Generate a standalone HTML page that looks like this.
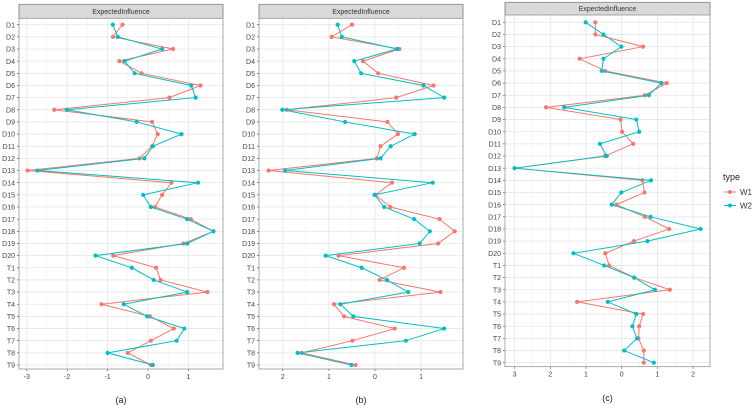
<!DOCTYPE html>
<html><head><meta charset="utf-8"><style>
body{margin:0;background:#fff}
svg{display:block;font-family:"Liberation Sans",sans-serif}
</style></head><body>
<svg id="chart" width="753" height="406" viewBox="0 0 753 406" xmlns="http://www.w3.org/2000/svg">
</svg>
<script>
const aW1=[-0.63,-0.87,0.62,-0.71,-0.16,1.30,0.53,-2.32,0.10,0.24,0.10,-0.21,-2.98,0.58,0.35,0.17,1.06,1.62,0.88,-0.86,0.20,0.31,1.47,-1.15,0.05,0.64,0.07,-0.50,0.07];
const aW2=[-0.87,-0.75,0.35,-0.58,-0.33,1.07,1.18,-2.01,-0.28,0.83,0.12,-0.09,-2.74,1.24,-0.12,0.07,0.97,1.62,0.97,-1.30,-0.40,0.14,0.97,-0.60,-0.02,0.90,0.71,-1.00,0.12];
const bW1=[-0.50,-0.94,0.53,-0.26,0.07,1.27,0.46,-1.92,0.27,0.50,0.12,0.04,-2.31,0.37,0.01,0.33,1.40,1.73,1.37,-0.79,0.63,0.10,1.42,-0.89,-0.67,0.43,-0.49,-1.59,-0.42];
const bW2=[-0.81,-0.72,0.48,-0.45,-0.30,1.05,1.50,-2.01,-0.65,0.86,0.34,0.12,-1.95,1.25,-0.01,0.20,0.85,1.19,0.97,-1.07,-0.29,0.26,0.72,-0.75,-0.47,1.50,0.67,-1.68,-0.51];
const cW1=[-0.74,-0.74,0.60,-1.18,-0.46,1.26,0.65,-2.12,-0.03,0.01,0.32,-0.47,-3.00,0.58,0.64,-0.15,0.65,1.33,0.34,-0.46,-0.35,0.35,1.35,-1.25,0.60,0.49,0.47,0.62,0.62];
const cW2=[-1.01,-0.51,-0.01,-0.51,-0.56,1.11,0.76,-1.61,0.41,0.49,-0.61,-0.42,-3.00,0.82,-0.01,-0.28,0.81,2.21,0.72,-1.35,-0.49,0.35,0.93,-0.39,0.41,0.30,0.43,0.07,0.90];
const aTicks=[-3,-2,-1,0,1];const aTickLabels=["-3","-2","-1","0","1"];
const bTicks=[-2,-1,0,1];const bTickLabels=["2","1","0","1"];
const cTicks=[-3,-2,-1,0,1,2];const cTickLabels=["3","2","1","0","1","2"];
const cats=["D1","D2","D3","D4","D5","D6","D7","D8","D9","D10","D11","D12","D13","D14","D15","D16","D17","D18","D19","D20","T1","T2","T3","T4","T5","T6","T7","T8","T9"];
const NS="http://www.w3.org/2000/svg";
const svg=document.getElementById('chart');
function mk(t,a,p){const e=document.createElementNS(NS,t);for(const k in a)e.setAttribute(k,a[k]);(p||svg).appendChild(e);return e;}
function panel(o){
 const g=mk('g',{});
 
 
 const x=v=>o.x0+o.unit*v;
 const n=cats.length;
 const y=i=>o.y1+(o.y2-o.y1)*i/(n-1);
 mk('rect',{x:o.L,y:o.stripB,width:o.R-o.L,height:o.B-o.stripB,fill:'#fff'},g);
 for(let i=0;i<o.ticks.length-1;i++){const v=(o.ticks[i]+o.ticks[i+1])/2;mk('line',{x1:x(v),x2:x(v),y1:o.stripB,y2:o.B,stroke:'#f3f3f3','stroke-width':0.6},g);}
 o.ticks.forEach(v=>mk('line',{x1:x(v),x2:x(v),y1:o.stripB,y2:o.B,stroke:'#e6e6e6','stroke-width':0.8},g));
 cats.forEach((c,i)=>{mk('line',{x1:o.L,x2:o.R,y1:y(i),y2:y(i),stroke:'#e6e6e6','stroke-width':0.8},g);
  const t=mk('text',{x:o.L-4,y:y(i)+2.6,'font-size':7,fill:'#444','text-anchor':'end'},g);t.textContent=c;
  
  mk('line',{x1:o.L-2,x2:o.L,y1:y(i),y2:y(i),stroke:'#444','stroke-width':0.6},g);});
 o.ticks.forEach((v,i)=>{mk('line',{x1:x(v),x2:x(v),y1:o.B,y2:o.B+2,stroke:'#444','stroke-width':0.6},g);
  const t=mk('text',{x:x(v),y:o.B+10,'font-size':7,fill:'#444','text-anchor':'middle'},g);t.textContent=o.labels[i];
  });
 [[o.w1,'#F8766D','w1'],[o.w2,'#00BFC4','w2']].forEach(([d,col,nm])=>{
  const pl=mk('polyline',{points:d.map((v,i)=>x(v)+','+y(i)).join(' '),fill:'none',stroke:col,'stroke-width':1},g);
  
  d.forEach((v,i)=>{const c=mk('circle',{cx:x(v),cy:y(i),r:2.1,fill:col},g);
   });});
 mk('rect',{x:o.L,y:o.T,width:o.R-o.L,height:o.stripB-o.T,fill:'#d9d9d9',stroke:'#888','stroke-width':0.7},g);
 const st=mk('text',{x:(o.L+o.R)/2,y:(o.T+o.stripB)/2+2.5,'font-size':7,fill:'#333','text-anchor':'middle'},g);st.textContent='ExpectedInfluence';
 
 mk('rect',{x:o.L,y:o.T,width:o.R-o.L,height:o.B-o.T,fill:'none',stroke:'#888','stroke-width':0.7},g);
 const lb=mk('text',{x:(o.L+o.R)/2,y:o.lab,'font-size':9,fill:'#222','text-anchor':'middle'},g);lb.textContent='('+o.id+')';
 
}
panel({id:'a',L:19,R:223,T:4.3,stripB:18.3,B:369,y1:24.7,y2:365,x0:148,unit:40.4,ticks:aTicks,labels:aTickLabels,w1:aW1,w2:aW2,lab:403});
panel({id:'b',L:259,R:463,T:4.3,stripB:18.3,B:369,y1:24.7,y2:365,x0:375,unit:46.1,ticks:bTicks,labels:bTickLabels,w1:bW1,w2:bW2,lab:403});
panel({id:'c',L:505,R:710,T:2.3,stripB:15,B:366.7,y1:22.3,y2:362.7,x0:621.7,unit:35.7,ticks:cTicks,labels:cTickLabels,w1:cW1,w2:cW2,lab:401});
const lgd=mk('g',{});


const tt=mk('text',{x:723,y:180,'font-size':9,fill:'#222'},lgd);tt.textContent='type';


[['W1','#F8766D',192],['W2','#00BFC4',205.5]].forEach(([nm,col,yy])=>{
 const e=mk('g',{},lgd);
 
 
 mk('line',{x1:724,y1:yy,x2:736,y2:yy,stroke:col,'stroke-width':1},e);
 mk('circle',{cx:730,cy:yy,r:2,fill:col},e);
 const t=mk('text',{x:740,y:yy+2.8,'font-size':8,fill:'#333'},e);t.textContent=nm;
});
</script>
</body></html>
